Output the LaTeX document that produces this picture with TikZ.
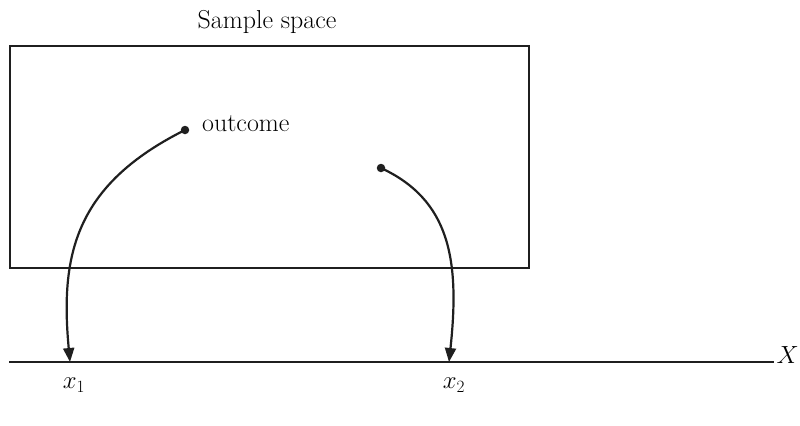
\documentclass[tikz,border=0pt]{standalone}
\usetikzlibrary{arrows.meta}
\begin{document}
\begin{tikzpicture}[x=1bp,y=-1bp,
  lbl/.style={font=\fontsize{26}{30}\selectfont, inner sep=0pt},
  ln/.style={line width=2.2bp, black!88},
  arr/.style={ln, -{Triangle[length=14bp,width=11bp]}},
  dot/.style={circle, fill=black!88, inner sep=0pt, minimum size=8.5bp}]
\useasboundingbox (0,0) rectangle (800,425);
\node[draw, ln, minimum width=519bp, minimum height=222bp, inner sep=0pt, anchor=north west] (box) at (9,45) {};
\node[lbl] (title) at (267,22) {Sample space};
\coordinate (axl) at (9,362);
\coordinate (axr) at (774,362);
\draw[ln] (axl) -- (axr);
\node[lbl, anchor=east, font=\fontsize{23}{27}\selectfont] (X) at (799,355) {$X$};
\node[dot] (d1) at (185,130) {};
\node[dot] (d2) at (381,168) {};
\node[lbl, anchor=west] (out) at (202,124) {outcome};
\coordinate (t1) at (70,362);
\coordinate (t2) at (449,362);
\node[lbl] (x1) at (74,385) {$x_{1}$};
\node[lbl] (x2) at (454,385) {$x_{2}$};
\draw[arr] (d1.center) .. controls (75,185) and (60,255) .. (t1);
\draw[arr] (d2.center) .. controls (450,200) and (460,260) .. (t2);
\end{tikzpicture}
\end{document}
